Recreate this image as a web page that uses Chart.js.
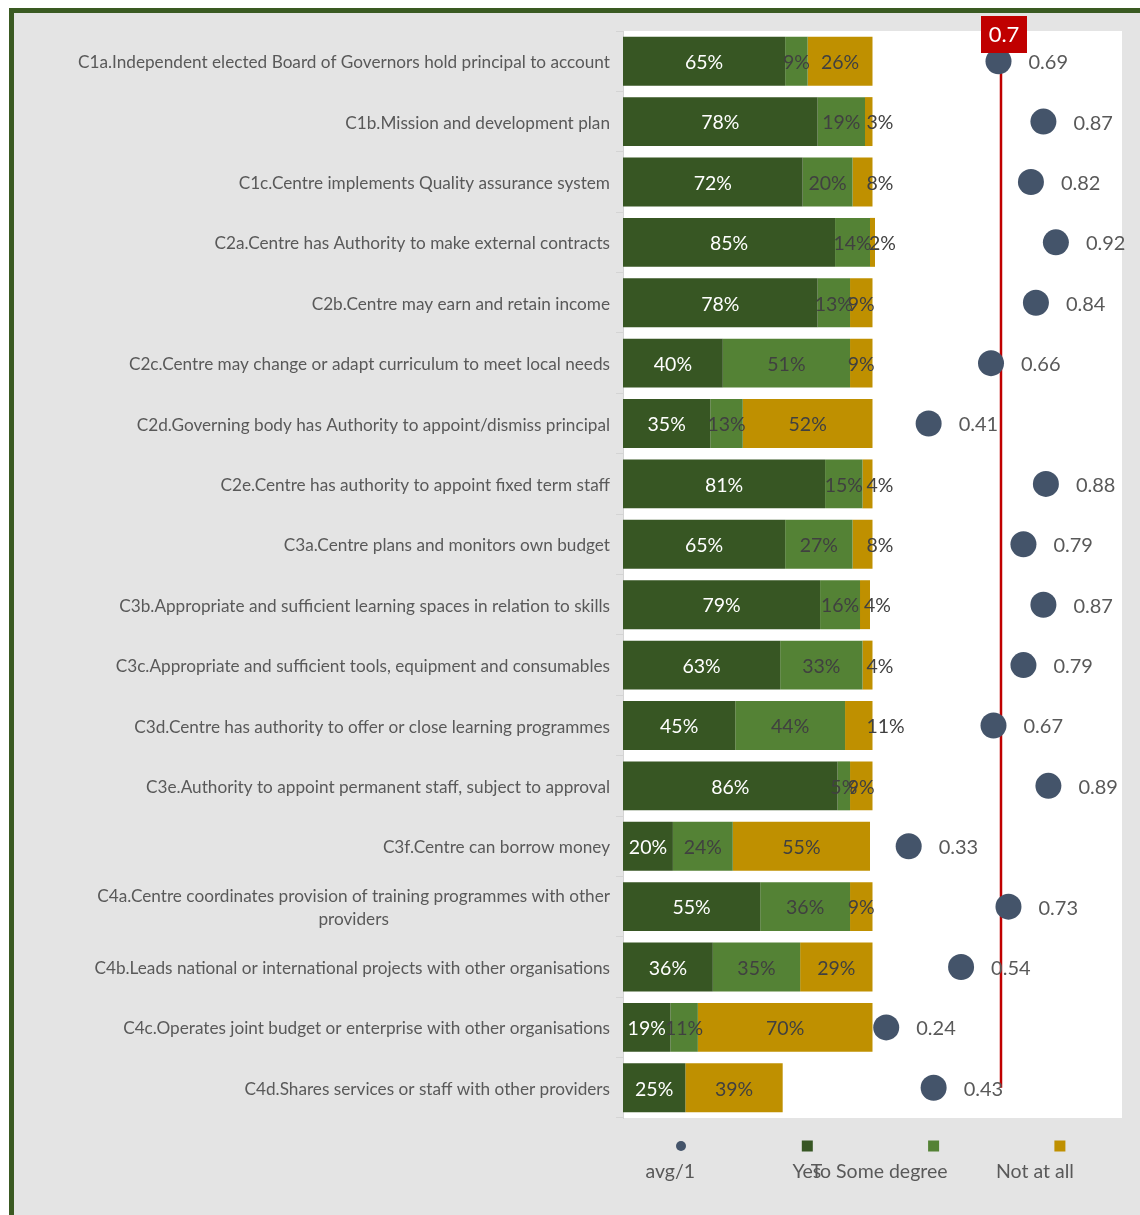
<!DOCTYPE html>
<html>
<head>
<meta charset="utf-8">
<script src="https://cdn.jsdelivr.net/npm/chart.js@4/dist/chart.umd.min.js"></script>
<style>
    html, body {
        margin: 0;
        padding: 0;
        background: #ffffff;
        overflow: hidden;
    }
    .chart-frame {
        position: absolute;
        left: 9px;
        top: 8px;
        width: 1200px;
        height: 1260px;
        border-top: 5px solid #3a5a22;
        border-left: 5px solid #3a5a22;
        background: #e4e4e4;
    }
    #autonomyChart {
        display: block;
        background: #e4e4e4;
    }
</style>
</head>
<body>
<div class="chart-frame">
    <canvas id="autonomyChart" width="1126" height="1202"></canvas>
</div>
<script>
const categories = [
    "C1a.Independent elected Board of Governors hold principal to account",
    "C1b.Mission and development plan",
    "C1c.Centre implements Quality assurance system",
    "C2a.Centre has Authority to make external contracts",
    "C2b.Centre may earn and retain income",
    "C2c.Centre may change or adapt curriculum to meet local needs",
    "C2d.Governing body has Authority to appoint/dismiss principal",
    "C2e.Centre has authority to appoint fixed term staff",
    "C3a.Centre plans and monitors own budget",
    "C3b.Appropriate and sufficient learning spaces in relation to skills",
    "C3c.Appropriate and sufficient tools, equipment and consumables",
    "C3d.Centre has authority to offer or close learning programmes",
    "C3e.Authority to appoint permanent staff, subject to approval",
    "C3f.Centre can borrow money",
    "C4a.Centre coordinates provision of training programmes with other providers",
    "C4b.Leads national or international projects with other organisations",
    "C4c.Operates joint budget or enterprise with other organisations",
    "C4d.Shares services or staff with other providers",
];

const yesPct = [65, 78, 72, 85, 78, 40, 35, 81, 65, 79, 63, 45, 86, 20, 55, 36, 19, 25];
const someDegreePct = [9, 19, 20, 14, 13, 51, 13, 15, 27, 16, 33, 44, 5, 24, 36, 35, 11, 0];
const notAtAllPct = [26, 3, 8, 2, 9, 9, 52, 4, 8, 4, 4, 11, 9, 55, 9, 29, 70, 39];
const avgScore = [0.69, 0.87, 0.82, 0.92, 0.84, 0.66, 0.41, 0.88, 0.79, 0.87, 0.79, 0.67, 0.89, 0.33, 0.73, 0.54, 0.24, 0.43];
const threshold = 0.7;

const FONT = "Lato, 'Open Sans', sans-serif";
const TEXT_GREY = "#595959";
const LABEL_DARK = "#404040";
const Y_AXIS_WIDTH = 609;

// wrap a category name into lines no wider than maxWidth
function wrapLabel(ctx, text, maxWidth) {
    const words = text.split(" ");
    const lines = [];
    let line = "";
    words.forEach((word) => {
        const test = line ? line + " " + word : word;
        if (line && ctx.measureText(test).width > maxWidth) {
            lines.push(line);
            line = word;
        } else {
            line = test;
        }
    });
    if (line) lines.push(line);
    return lines;
}

const plotBackground = {
    id: "plotBackground",
    beforeDraw(chart) {
        const { ctx, chartArea } = chart;
        ctx.save();
        ctx.fillStyle = "#ffffff";
        ctx.fillRect(chartArea.left, chartArea.top, chartArea.right - chartArea.left, chartArea.bottom - chartArea.top);
        ctx.restore();
    },
};

const categoryLabels = {
    id: "categoryLabels",
    afterDraw(chart) {
        const { ctx, chartArea } = chart;
        const yScale = chart.scales.y;
        const right = chartArea.left - 13;
        const lineHeight = 23;
        ctx.save();
        ctx.font = "17.2px " + FONT;
        ctx.fillStyle = TEXT_GREY;
        ctx.textBaseline = "middle";
        categories.forEach((name, i) => {
            const lines = wrapLabel(ctx, name, 560);
            const yMid = yScale.getPixelForValue(i) + 1.5;
            if (lines.length === 1) {
                ctx.textAlign = "right";
                ctx.fillText(name, right, yMid);
                return;
            }
            const blockWidth = Math.max(...lines.map((l) => ctx.measureText(l).width));
            const top = yMid - (lines.length - 1) * lineHeight / 2;
            ctx.textAlign = "center";
            lines.forEach((l, k) => ctx.fillText(l, right - blockWidth / 2, top + k * lineHeight));
        });
        ctx.restore();
    },
};

const valueLabels = {
    id: "valueLabels",
    afterDatasetsDraw(chart) {
        const { ctx } = chart;
        ctx.save();
        ctx.textBaseline = "middle";
        chart.data.datasets.forEach((ds, di) => {
            const meta = chart.getDatasetMeta(di);
            meta.data.forEach((el, i) => {
                const v = ds.data[i];
                if (ds.type === "line") {
                    ctx.font = "20px " + FONT;
                    ctx.fillStyle = TEXT_GREY;
                    ctx.textAlign = "left";
                    ctx.fillText(v.toFixed(2), el.x + 30, el.y + 1.5);
                    return;
                }
                if (!v) return;
                ctx.font = "19.5px " + FONT;
                const text = v + "%";
                const { x, base, y } = el.getProps(["x", "base", "y"], true);
                const start = Math.min(x, base);
                const end = Math.max(x, base);
                const w = ctx.measureText(text).width;
                let left = (start + end) / 2 - w / 2;
                // the last segment's label slides out past the bar end when it is too narrow
                if (ds.labelOverflow && w > end - start + 6) {
                    left = Math.max(left, end - 6);
                }
                ctx.fillStyle = ds.labelColor;
                ctx.textAlign = "left";
                ctx.fillText(text, left, y + 1.5);
            });
        });
        ctx.restore();
    },
};

const thresholdLine = {
    id: "thresholdLine",
    beforeDatasetsDraw(chart) {
        const { ctx, chartArea } = chart;
        const x = chart.scales.x2.getPixelForValue(threshold);
        const bottom = chart.scales.y.getPixelForValue(categories.length - 1);
        ctx.save();
        ctx.strokeStyle = "#c00000";
        ctx.lineWidth = 2.5;
        ctx.beginPath();
        ctx.moveTo(x, chartArea.top + 20);
        ctx.lineTo(x, bottom);
        ctx.stroke();
        ctx.restore();
    },
    afterDatasetsDraw(chart) {
        const { ctx, chartArea } = chart;
        const x = chart.scales.x2.getPixelForValue(threshold) + 3;
        const top = chartArea.top - 15;
        ctx.save();
        ctx.fillStyle = "#c00000";
        ctx.fillRect(x - 23, top, 46, 37);
        ctx.fillStyle = "#ffffff";
        ctx.font = "22px " + FONT;
        ctx.textAlign = "center";
        ctx.textBaseline = "middle";
        ctx.fillText(String(threshold), x, top + 19);
        ctx.restore();
    },
};

const bottomLegend = {
    id: "bottomLegend",
    afterDraw(chart) {
        const { ctx, chartArea } = chart;
        const markerY = chartArea.bottom + 28;
        const textY = chartArea.bottom + 54;
        ctx.save();
        ctx.font = "19.5px " + FONT;
        ctx.textBaseline = "middle";
        ctx.textAlign = "right";
        chart.data.datasets.forEach((ds, i) => {
            const mx = chartArea.left + 58 + i * 126.3;
            ctx.fillStyle = ds.type === "line" ? ds.pointBackgroundColor : ds.backgroundColor;
            if (ds.type === "line") {
                ctx.beginPath();
                ctx.arc(mx, markerY, 5, 0, Math.PI * 2);
                ctx.fill();
            } else {
                ctx.fillRect(mx - 5.5, markerY - 5.5, 11, 11);
            }
            ctx.fillStyle = TEXT_GREY;
            ctx.fillText(ds.label, mx + 14, textY);
        });
        ctx.restore();
    },
};

function initAutonomyChart() {
    const ctx = document.getElementById("autonomyChart");
    if (!ctx || !window.Chart) return;

    new Chart(ctx, {
        type: "bar",
        data: {
            labels: categories,
            datasets: [
                {
                    type: "line",
                    label: "avg/1",
                    data: avgScore,
                    indexAxis: "y",
                    xAxisID: "x2",
                    yAxisID: "y",
                    showLine: false,
                    pointRadius: 13,
                    pointHoverRadius: 13,
                    pointBorderWidth: 0,
                    pointBackgroundColor: "#44546a",
                    pointBorderColor: "#44546a",
                },
                {
                    label: "Yes",
                    data: yesPct,
                    backgroundColor: "#375623",
                    labelColor: "#ffffff",
                },
                {
                    label: "To Some degree",
                    data: someDegreePct,
                    backgroundColor: "#548235",
                    labelColor: LABEL_DARK,
                },
                {
                    label: "Not at all",
                    data: notAtAllPct,
                    backgroundColor: "#bf9000",
                    labelColor: LABEL_DARK,
                    labelOverflow: true,
                },
            ],
        },
        options: {
            indexAxis: "y",
            responsive: false,
            animation: false,
            devicePixelRatio: 1,
            datasets: {
                bar: {
                    barPercentage: 0.81,
                    categoryPercentage: 1,
                    borderWidth: 0,
                },
            },
            layout: {
                padding: { top: 18, right: 18, bottom: 97, left: 0 },
            },
            plugins: {
                legend: { display: false },
                tooltip: { enabled: false },
            },
            scales: {
                x: {
                    display: false,
                    stacked: true,
                    min: 0,
                    max: 200,
                },
                x2: {
                    display: false,
                    min: -0.815,
                    max: 1.185,
                },
                y: {
                    stacked: true,
                    afterFit: (scale) => {
                        scale.width = Y_AXIS_WIDTH;
                    },
                    ticks: { display: false },
                    grid: {
                        offset: true,
                        drawOnChartArea: false,
                        tickLength: 7,
                        color: "#d4d4d4",
                    },
                    border: { display: true, color: "#d4d4d4" },
                },
            },
        },
        plugins: [plotBackground, thresholdLine, valueLabels, categoryLabels, bottomLegend],
    });
}

document.addEventListener("DOMContentLoaded", initAutonomyChart);
</script>
</body>
</html>
